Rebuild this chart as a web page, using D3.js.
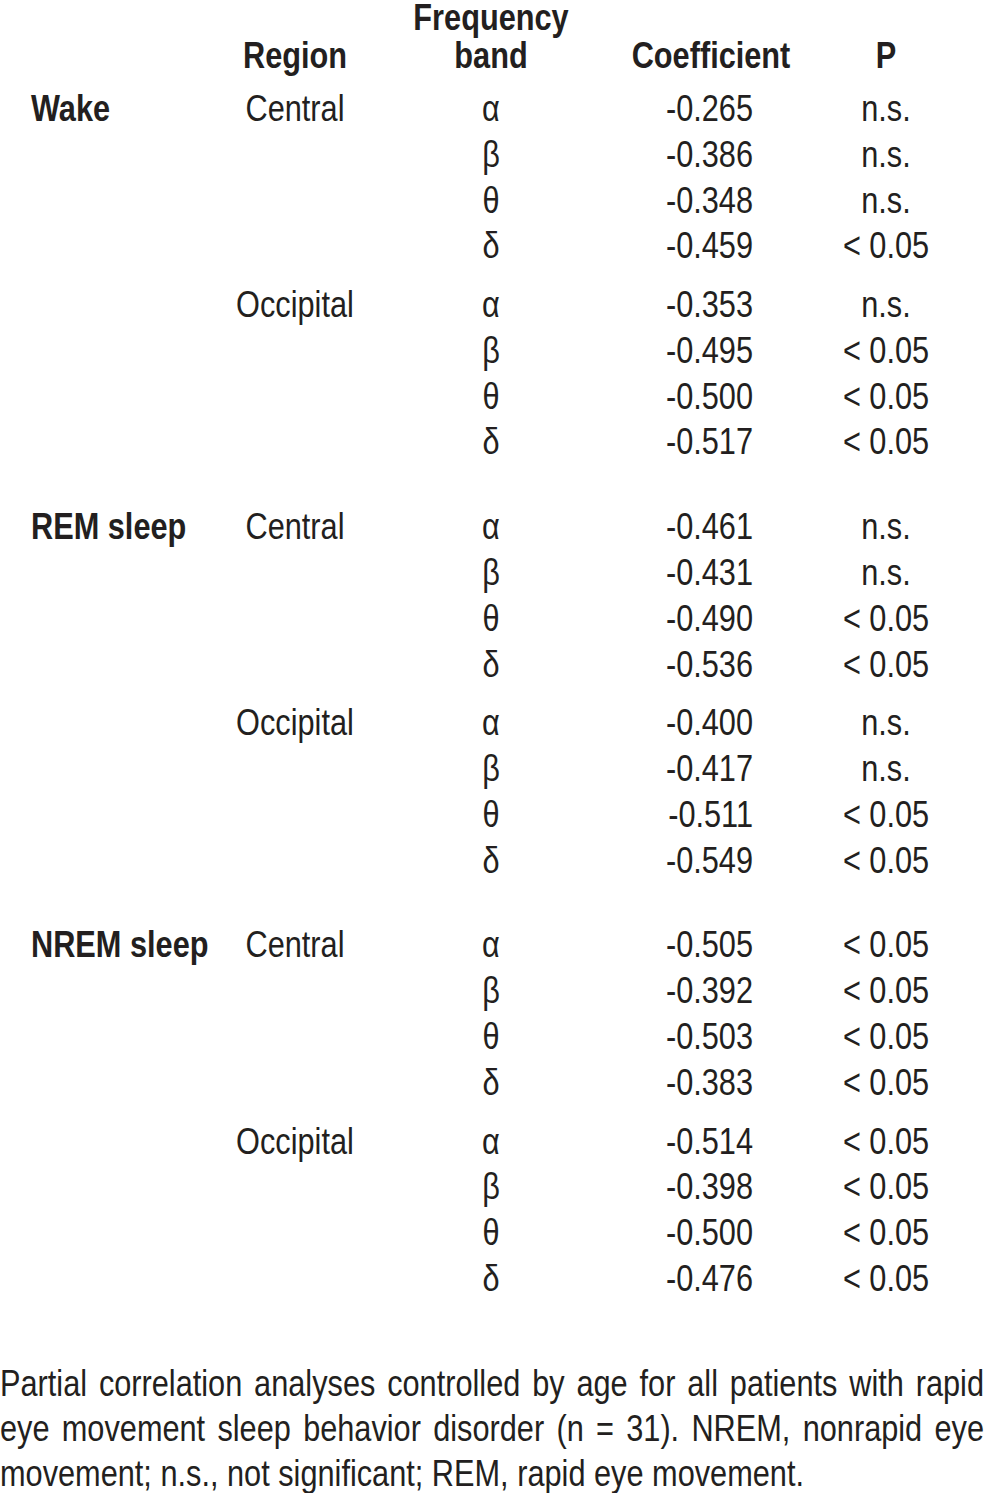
<!DOCTYPE html>
<html>
<head>
<meta charset="utf-8">
<style>
  body { margin: 0; background: #fff; }
  svg text {
    font-family: "Liberation Sans", Arial, sans-serif;
    fill: #231f20;
  }
  .head, .state { font-weight: bold; }
</style>
<script src="https://d3js.org/d3.v7.min.js"></script>
</head>
<body>
<div id="table"></div>
<script>
  // table content
  var states = ["Wake", "REM sleep", "NREM sleep"];
  var regions = ["Central", "Occipital"];
  var bands = ["α", "β", "θ", "δ"];
  var headers = ["Region", "Frequency band", "Coefficient", "P"];

  // coefficients[state][region][band]
  var coefficients = [
    [[-0.265, -0.386, -0.348, -0.459], [-0.353, -0.495, -0.500, -0.517]],
    [[-0.461, -0.431, -0.490, -0.536], [-0.400, -0.417, -0.511, -0.549]],
    [[-0.505, -0.392, -0.503, -0.383], [-0.514, -0.398, -0.500, -0.476]]
  ];
  var pValues = [
    [["n.s.", "n.s.", "n.s.", "< 0.05"], ["n.s.", "< 0.05", "< 0.05", "< 0.05"]],
    [["n.s.", "n.s.", "< 0.05", "< 0.05"], ["n.s.", "n.s.", "< 0.05", "< 0.05"]],
    [["< 0.05", "< 0.05", "< 0.05", "< 0.05"], ["< 0.05", "< 0.05", "< 0.05", "< 0.05"]]
  ];
  var captionLines = [
    "Partial correlation analyses controlled by age for all patients with rapid",
    "eye movement sleep behavior disorder (n = 31). NREM, nonrapid eye",
    "movement; n.s., not significant; REM, rapid eye movement."
  ];

  var width = 984, height = 1493;
  var fontSize = 37;
  var sx = 0.83;   // squeeze to look like a narrow face

  var svg = d3.select("#table")
    .append("svg")
      .attr("width", width)
      .attr("height", height);

  // narrow text: anchor at (px, py), squeezed horizontally
  function narrow(sel, px, py) {
    return sel.attr("x", 0).attr("y", 0)
      .attr("transform", "translate(" + px + "," + py + ") scale(" + sx + ",1)");
  }

  // flatten rows
  var rows = [];
  states.forEach(function(s, si) {
    regions.forEach(function(r, ri) {
      bands.forEach(function(b, bi) {
        rows.push({state: s, si: si, region: r, ri: ri, band: b, bi: bi,
                   coef: coefficients[si][ri][bi], p: pValues[si][ri][bi]});
      });
    });
  });

  // vertical position: row step plus extra gaps between regions and states
  var step = 45.78, regionGap = 13, stateGap = 39, firstBase = 121;
  var yRow = d3.scaleLinear().domain([0, 1]).range([firstBase, firstBase + step]);
  function rowY(d, i) {
    var rg = d.si + d.ri;      // region breaks before this row
    return yRow(i) + rg * regionGap + d.si * stateGap;
  }

  var fmt = d3.formatLocale({decimal: ".", thousands: ",", grouping: [3],
                             currency: ["", ""], minus: "-"}).format(".3f");

  // column positions
  var x = {state: 31, region: 295, band: 491, coef: 753, coefHead: 711, p: 886};

  // headers
  var head = svg.append("g").attr("class", "head").style("font-size", fontSize + "px");
  narrow(head.append("text"), x.region, 68).attr("text-anchor", "middle").text(headers[0]);
  narrow(head.append("text"), x.band, 30).attr("text-anchor", "middle").text("Frequency");
  narrow(head.append("text"), x.band, 68).attr("text-anchor", "middle").text("band");
  narrow(head.append("text"), x.coefHead, 68).attr("text-anchor", "middle").text(headers[2]);
  narrow(head.append("text"), x.p, 68).attr("text-anchor", "middle").text(headers[3]);

  var body = svg.append("g").style("font-size", fontSize + "px");

  var rowG = body.selectAll("g.row")
    .data(rows)
    .enter()
    .append("g")
      .attr("class", "row")
      .attr("transform", function(d, i) { return "translate(0," + rowY(d, i) + ")"; });

  narrow(rowG.filter(function(d) { return d.ri === 0 && d.bi === 0; })
    .append("text"), x.state, 0)
      .attr("class", "state")
      .text(function(d) { return d.state; });

  narrow(rowG.filter(function(d) { return d.bi === 0; })
    .append("text"), x.region, 0)
      .attr("text-anchor", "middle")
      .text(function(d) { return d.region; });

  narrow(rowG.append("text"), x.band, 0)
    .attr("text-anchor", "middle")
    .text(function(d) { return d.band; });

  narrow(rowG.append("text"), x.coef, 0)
    .attr("text-anchor", "end")
    .text(function(d) { return fmt(d.coef); });

  narrow(rowG.append("text"), x.p, 0)
    .attr("text-anchor", "middle")
    .text(function(d) { return d.p; });

  // caption, justified except last line
  var cap = svg.append("g")
    .style("font-size", fontSize + "px")
    .attr("transform", "translate(0,0) scale(" + sx + ",1)");
  var capBase = 1396, capStep = 45, capWidth = width / sx;
  captionLines.forEach(function(line, li) {
    var words = line.split(" ");
    var t = cap.append("text").attr("y", capBase + li * capStep);
    var spans = words.map(function(w) { return t.append("tspan").text(w); });
    var widths = spans.map(function(s) { return s.node().getComputedTextLength(); });
    var total = d3.sum(widths);
    var space = (li < captionLines.length - 1) ? (capWidth - total) / (words.length - 1) : fontSize * 0.278;
    var cx = 0;
    spans.forEach(function(s, k) {
      s.attr("x", cx);
      cx += widths[k] + space;
    });
  });
</script>
</body>
</html>
